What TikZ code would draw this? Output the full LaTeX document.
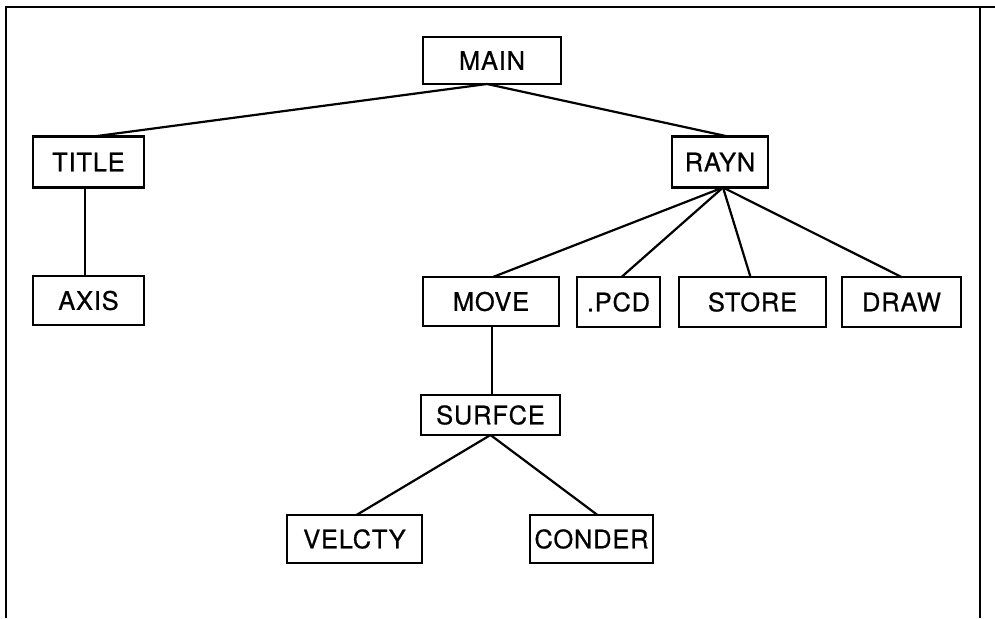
\documentclass[tikz,border=0pt]{standalone}
\usepackage{fontspec}
\setmainfont[LetterSpace=3,FakeBold=0.6]{TeX Gyre Heros}
\begin{document}
\begin{tikzpicture}[x=1pt,y=-1pt,
  box/.style={draw,line width=2.2pt,inner sep=0pt,outer sep=0pt,font=\fontsize{25.5}{25.5}\selectfont},
  link/.style={line width=2.2pt}]
\useasboundingbox (0,0) rectangle (995,618);
\draw[line width=2.4pt] (6,618) -- (6,7) -- (995,7);
\draw[line width=2.4pt] (980,7) -- (980,618);
\node[box,minimum width=138pt,minimum height=47pt] (main) at (492,60.5) {MAIN};
\node[box,minimum width=111pt,minimum height=51pt] (title) at (88.5,162) {TITLE};
\node[box,minimum width=96pt,minimum height=51pt] (rayn) at (720,162) {RAYN};
\node[box,minimum width=111pt,minimum height=49pt] (axis) at (88.5,300.5) {AXIS};
\node[box,minimum width=136pt,minimum height=49pt] (move) at (491,301.5) {MOVE};
\node[box,minimum width=83pt,minimum height=50pt] (pcd) at (618.5,302) {.PCD};
\node[box,minimum width=147pt,minimum height=50pt] (store) at (752.5,302) {STORE};
\node[box,minimum width=119pt,minimum height=50pt] (draw) at (901.5,302) {DRAW};
\node[box,minimum width=139pt,minimum height=40pt] (surfce) at (490.5,415) {SURFCE};
\node[box,minimum width=135pt,minimum height=48pt] (velcty) at (354.5,539) {VELCTY};
\node[box,minimum width=123pt,minimum height=48pt] (conder) at (591.5,539) {CONDER};
\coordinate (mainb) at ([xshift=-5pt]main.south);
\coordinate (raynb) at ([xshift=3pt]rayn.south);
\draw[link] (mainb) -- ([xshift=5pt]title.north);
\draw[link] (mainb) -- ([xshift=8pt]rayn.north);
\draw[link] ([xshift=-3.5pt]title.south) -- ([xshift=-3.5pt]axis.north);
\draw[link] (raynb) -- ([xshift=2pt]move.north);
\draw[link] (raynb) -- ([xshift=3pt]pcd.north);
\draw[link] (raynb) -- ([xshift=-2pt]store.north);
\draw[link] (raynb) -- (draw.north);
\draw[link] ([xshift=1pt]move.south) -- ([xshift=1pt]move.south |- surfce.north);
\draw[link] (surfce.south) -- ([xshift=2pt]velcty.north);
\draw[link] (surfce.south) -- ([xshift=6pt]conder.north);
\end{tikzpicture}
\end{document}
